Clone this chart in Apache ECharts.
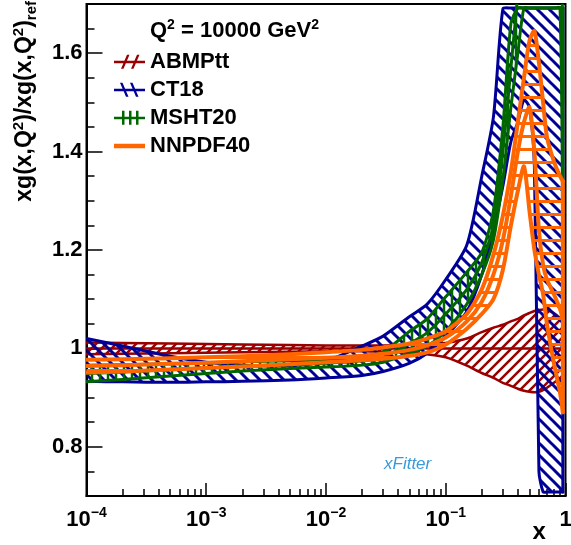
<!DOCTYPE html>
<html><head><meta charset="utf-8">
<script src="https://cdn.jsdelivr.net/npm/echarts@6/dist/echarts.min.js"></script>
<style>html,body{margin:0;padding:0;background:#fff}#c{width:571px;height:545px}</style>
</head><body><div id="c"></div>
<script>
// ---------------- data ----------------
const xValues = [1e-4, 2e-4, 5e-4, 1e-3, 2e-3, 5e-3, 1e-2, 2e-2, 3e-2, 5e-2, 7e-2, 0.1, 0.15, 0.2, 0.25, 0.3, 0.35, 0.4, 0.45, 0.5, 0.55, 0.6, 0.65, 0.7, 0.8, 0.9, 0.95];

const abmLow  = [0.988,0.989,0.990,0.991,0.992,0.993,0.994,0.994,0.993,0.991,0.988,0.982,0.965,0.950,0.940,0.930,0.924,0.918,0.914,0.912,0.911,0.912,0.915,0.920,0.930,0.940,0.945];
const abmCen  = [1,1,1,1,1,1,1,1,1,1,1,1,1,1,1,1,1,1,1,1,1,1,1,1,1,1,1];
const abmHigh = [1.012,1.011,1.010,1.009,1.008,1.007,1.006,1.006,1.006,1.007,1.008,1.011,1.020,1.033,1.042,1.048,1.055,1.060,1.067,1.072,1.076,1.078,1.079,1.078,1.072,1.062,1.055];

const ctLow  = [0.933,0.932,0.931,0.932,0.933,0.936,0.940,0.945,0.953,0.970,0.990,1.025,1.075,1.150,1.240,1.330,1.420,1.460,1.505,1.490,1.370,0.750,0.600,0.600,0.600,0.600,0.600];
const ctHigh = [1.020,1.005,0.984,0.972,0.966,0.965,0.975,1.005,1.025,1.065,1.090,1.140,1.210,1.350,1.470,1.690,1.880,1.950,2.000,2.000,2.000,2.000,2.000,2.000,2.000,2.000,2.000];

const mshtLow  = [0.932,0.937,0.944,0.949,0.954,0.959,0.962,0.966,0.972,0.990,1.005,1.035,1.090,1.150,1.220,1.345,1.490,1.600,1.700,1.800,1.900,1.900,1.900,1.900,1.900,1.900,1.140];
const mshtCen  = [0.949,0.952,0.957,0.960,0.964,0.967,0.970,0.975,0.982,1.010,1.032,1.070,1.120,1.175,1.250,1.400,1.570,1.720,1.850,1.950,2.000,2.000,2.000,2.000,2.000,2.000,1.500];
const mshtHigh = [0.966,0.967,0.969,0.971,0.973,0.975,0.977,0.983,0.993,1.035,1.060,1.105,1.155,1.195,1.280,1.450,1.660,1.850,2.000,2.000,2.000,2.000,2.000,2.000,2.000,2.000,2.000];

const nnLow  = [0.951,0.953,0.957,0.960,0.963,0.968,0.972,0.976,0.979,0.985,0.992,1.008,1.040,1.070,1.100,1.160,1.250,1.320,1.370,1.280,1.200,1.150,1.110,1.050,0.970,0.910,0.870];
const nnCen  = [0.964,0.966,0.969,0.971,0.974,0.978,0.981,0.985,0.989,0.997,1.006,1.022,1.055,1.095,1.150,1.220,1.310,1.400,1.460,1.490,1.400,1.240,1.170,1.140,1.110,1.080,1.060];
const nnHigh = [0.977,0.978,0.980,0.982,0.984,0.988,0.992,0.997,1.002,1.010,1.020,1.035,1.070,1.120,1.190,1.270,1.360,1.460,1.550,1.625,1.645,1.580,1.500,1.430,1.380,1.350,1.340];

const xTickLabels = [1e-4, 1e-3, 1e-2, 1e-1, 1];
const xMinorTicks = [2e-4,3e-4,4e-4,5e-4,6e-4,7e-4,8e-4,9e-4,2e-3,3e-3,4e-3,5e-3,6e-3,7e-3,8e-3,9e-3,2e-2,3e-2,4e-2,5e-2,6e-2,7e-2,8e-2,9e-2,0.2,0.3,0.4,0.5,0.6,0.7,0.8,0.9];
const yTickLabels = [0.8, 1.0, 1.2, 1.4, 1.6];
const yMinorTicks = [0.75,0.85,0.9,0.95,1.05,1.1,1.15,1.25,1.3,1.35,1.45,1.5,1.55,1.65];
const Y_MIN = 0.7, Y_MAX = 1.7, X_MIN = 1e-4, X_MAX = 1;

// ---------------- styling helpers ----------------
const RED = '#990000', BLUE = '#000099', GREEN = '#006600', ORANGE = '#ff6600';
const FONT = 'Liberation Sans';

function hatch(kind, color, s, lw) {
  const c = document.createElement('canvas');
  c.width = s; c.height = s;
  const g = c.getContext('2d');
  g.strokeStyle = color; g.lineWidth = lw;
  g.beginPath();
  if (kind === '/') { for (const o of [-s, 0, s]) { g.moveTo(o - 1, s + 1); g.lineTo(o + s + 1, -1); } }
  if (kind === '\\') { for (const o of [-s, 0, s]) { g.moveTo(o - 1, -1); g.lineTo(o + s + 1, s + 1); } }
  if (kind === '|') { g.moveTo(s / 2, 0); g.lineTo(s / 2, s); }
  if (kind === '-') { g.moveTo(0, s / 2); g.lineTo(s, s / 2); }
  g.stroke();
  return { image: c, repeat: 'repeat' };
}

function band(name, color, pattern, low, cen, high, lw) {
  return {
    type: 'custom', name: name, clip: true, silent: true,
    itemStyle: { color: color },
    data: [0],
    renderItem: function (params, api) {
      const top = api.coord([X_MIN, Y_MAX])[1] + 4;
      const bot = api.coord([X_MIN, Y_MIN])[1] - 4;
      const cl = p => [p[0], Math.min(bot, Math.max(top, p[1]))];
      const up = xValues.map((x, i) => cl(api.coord([x, high[i]])));
      const lo = xValues.map((x, i) => cl(api.coord([x, low[i]])));
      const line = { fill: null, stroke: color, lineWidth: lw, lineJoin: 'round', lineCap: 'round' };
      const n = xValues.length - 1;
      const children = [
        { type: 'polygon', shape: { points: up.concat(lo.slice().reverse()) }, style: { fill: pattern, stroke: null } },
        { type: 'polyline', shape: { points: up, smooth: 0.25 }, style: line },
        { type: 'polyline', shape: { points: lo, smooth: 0.25 }, style: line },
        { type: 'polyline', shape: { points: [up[n], lo[n]] }, style: line }
      ];
      if (cen) children.push({
        type: 'polyline', shape: { points: xValues.map((x, i) => api.coord([x, cen[i]])), smooth: 0.25 },
        style: line
      });
      return { type: 'group', children: children };
    }
  };
}

const corner = 'M0 0 L0.05 0 L0.05 0.05 Z M31 14 L30.95 14 L30.95 13.95 Z ';
const bar = 'M0 6 L31 6 L31 8.5 L0 8.5 Z ';
const iconRed = 'path://' + corner + bar + 'M7 14 L13 0 L15.5 0 L9.5 14 Z M17 14 L23 0 L25.5 0 L19.5 14 Z';
const iconBlue = 'path://' + corner + bar + 'M6 0 L8.5 0 L14.5 14 L12 14 Z M16 0 L18.5 0 L24.5 14 L22 14 Z';
const iconGreen = 'path://' + corner + bar + 'M8 0 L10.5 0 L10.5 14 L8 14 Z M15 0 L17.5 0 L17.5 14 L15 14 Z M22 0 L24.5 0 L24.5 14 L22 14 Z';
const iconOrange = 'path://' + corner + 'M0 5 L31 5 L31 9.5 L0 9.5 Z';

const chart = echarts.init(document.getElementById('c'), null, { renderer: 'canvas' });
const axisText = { fontFamily: FONT, fontWeight: 'bold', color: '#000' };

chart.setOption({
  animation: false,
  backgroundColor: '#fff',
  grid: { left: 86.5, right: 5.5, top: 4, bottom: 49, show: true, borderColor: '#000', borderWidth: 2, containLabel: false, outerBoundsMode: 'none' },
  title: {
    text: '{b|Q}{s|2}{b| = 10000 GeV}{s|2}', left: 150, top: 18, padding: 0,
    textStyle: { rich: {
      b: { fontSize: 22, fontWeight: 'bold', fontFamily: FONT, color: '#000', lineHeight: 26 },
      s: { fontSize: 14, fontWeight: 'bold', fontFamily: FONT, color: '#000', lineHeight: 16, verticalAlign: 'top' }
    } }
  },
  legend: {
    left: 114, top: 50.7, orient: 'vertical', padding: 0, itemWidth: 31, itemHeight: 14, itemGap: 6,
    selectedMode: false,
    textStyle: { fontSize: 22, fontWeight: 'bold', fontFamily: FONT, color: '#000', lineHeight: 22 },
    data: [
      { name: 'ABMPtt', icon: iconRed },
      { name: 'CT18', icon: iconBlue },
      { name: 'MSHT20', icon: iconGreen },
      { name: 'NNPDF40', icon: iconOrange }
    ]
  },
  xAxis: [{
    type: 'log', logBase: 10, min: X_MIN, max: X_MAX, position: 'bottom',
    name: 'x', nameLocation: 'end', nameGap: -33,
    nameTextStyle: { fontSize: 24, fontWeight: 'bold', fontFamily: FONT, color: '#000', verticalAlign: 'top', lineHeight: 24, padding: [24, 0, 0, 0] },
    axisLine: { show: true, lineStyle: { color: '#000', width: 2 } },
    axisTick: { show: true, inside: true, length: 13, lineStyle: { color: '#000', width: 1.5 }, customValues: xTickLabels },
    axisLabel: {
      margin: 10, customValues: xTickLabels,
      formatter: function (v) {
        if (Math.abs(v - 1) < 1e-9) return '{b|1}';
        const e = Math.round(Math.log10(v));
        return '{b|10}{s|\u2212' + (-e) + '}';
      },
      rich: {
        b: Object.assign({ fontSize: 22, lineHeight: 28 }, axisText),
        s: Object.assign({ fontSize: 14, lineHeight: 16, verticalAlign: 'top' }, axisText)
      }
    },
    splitLine: { show: false }
  }, {
    type: 'log', logBase: 10, min: X_MIN, max: X_MAX, position: 'bottom',
    axisLine: { show: false },
    axisTick: { show: true, inside: true, length: 7, lineStyle: { color: '#000', width: 1.5 }, customValues: xMinorTicks },
    axisLabel: { show: false },
    splitLine: { show: false }
  }],
  yAxis: [{
    type: 'value', min: Y_MIN, max: Y_MAX, position: 'left',
    axisLine: { show: true, lineStyle: { color: '#000', width: 2 } },
    axisTick: { show: true, inside: true, length: 16, lineStyle: { color: '#000', width: 1.5 }, customValues: yTickLabels },
    axisLabel: Object.assign({ margin: 4, fontSize: 22, customValues: yTickLabels }, axisText),
    splitLine: { show: false }
  }, {
    type: 'value', min: Y_MIN, max: Y_MAX, position: 'left',
    axisLine: { show: false },
    axisTick: { show: true, inside: true, length: 8, lineStyle: { color: '#000', width: 1.5 }, customValues: yMinorTicks },
    axisLabel: { show: false },
    splitLine: { show: false }
  }],
  graphic: [{
    type: 'text', x: 39, y: 1, rotation: Math.PI / 2,
    style: {
      text: '{b|xg(x,Q}{s|2}{b|)/xg(x,Q}{s|2}{b|)}{u|ref}',
      align: 'right', textAlign: 'right', verticalAlign: 'bottom', textVerticalAlign: 'bottom',
      rich: {
        b: { fontSize: 23, fontWeight: 'bold', fontFamily: FONT, fill: '#000', lineHeight: 28 },
        s: { fontSize: 15, fontWeight: 'bold', fontFamily: FONT, fill: '#000', lineHeight: 16, verticalAlign: 'top' },
        u: { fontSize: 15, fontWeight: 'bold', fontFamily: FONT, fill: '#000', lineHeight: 16, verticalAlign: 'bottom' }
      }
    }
  }, {
    type: 'text', x: 384, y: 456,
    style: { text: 'xFitter', fontSize: 17, fontStyle: 'italic', fontFamily: FONT, fill: '#3a9ad9' }
  }],
  series: [
    band('ABMPtt', RED, hatch('/', RED, 10, 2.5), abmLow, abmCen, abmHigh, 2.5),
    band('CT18', BLUE, hatch('\\', BLUE, 12, 3), ctLow, null, ctHigh, 3),
    band('MSHT20', GREEN, hatch('|', GREEN, 8, 2.5), mshtLow, mshtCen, mshtHigh, 3),
    band('NNPDF40', ORANGE, hatch('-', ORANGE, 13, 3), nnLow, nnCen, nnHigh, 4)
  ]
});
</script></body></html>
